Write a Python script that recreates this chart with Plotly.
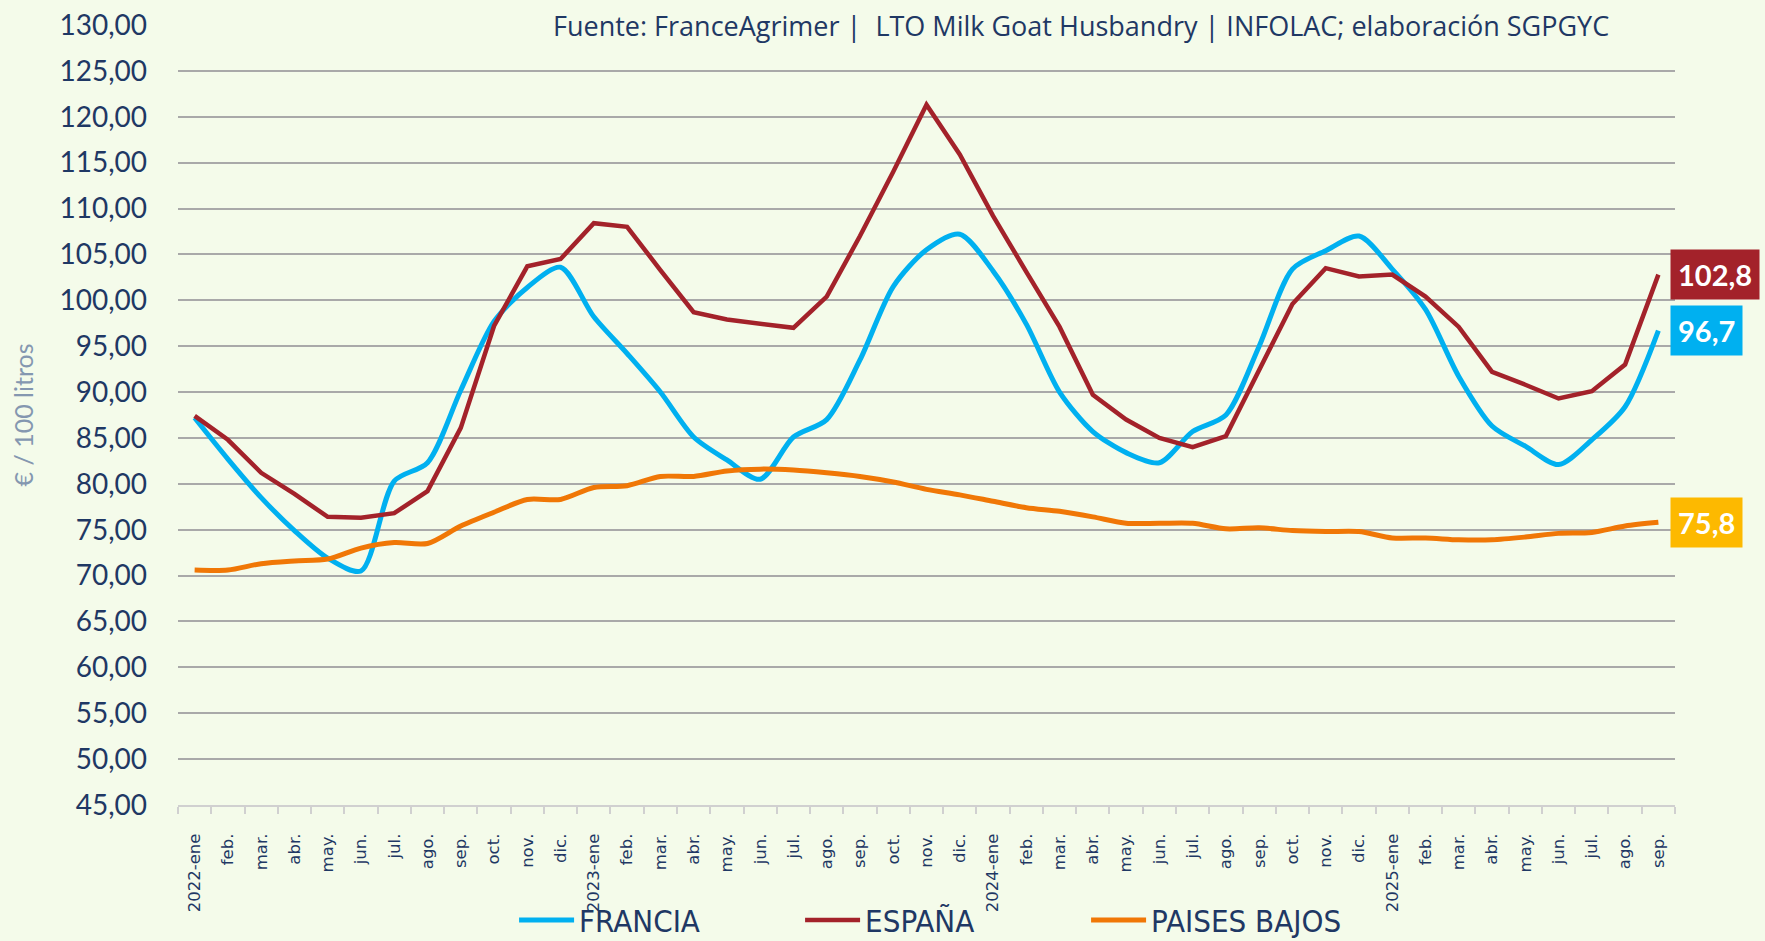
import plotly.graph_objects as go

meses = ["ene", "feb.", "mar.", "abr.", "may.", "jun.", "jul.", "ago.", "sep.", "oct.", "nov.", "dic."]
anios = [2022, 2023, 2024, 2025]
categorias = []
for a in anios:
    for k, m in enumerate(meses):
        if a == 2025 and k > 8:
            break
        categorias.append(f"{a}-ene" if k == 0 else m)

francia = [87.2, 82.7, 78.5, 74.9, 71.9, 70.5, 80.3, 82.3, 90.2, 97.7, 101.4, 103.6,
           98.2, 94.2, 90.0, 85.1, 82.6, 80.5, 85.1, 87.0, 93.5, 101.5, 105.5, 107.2,
           103.2, 97.4, 90.0, 85.7, 83.4, 82.3, 85.7, 87.5, 95.0, 103.4, 105.4, 107.0,
           103.4, 99.0, 91.7, 86.3, 84.1, 82.1, 84.8, 88.4, 96.7]
espana = [87.4, 84.8, 81.2, 78.9, 76.4, 76.3, 76.8, 79.2, 86.1, 97.2, 103.7, 104.5,
          108.4, 108.0, 103.3, 98.7, 97.9, 97.4, 97.0, 100.4, 107.0, 114.0, 121.3, 115.9,
          109.2, 103.1, 97.1, 89.7, 87.0, 85.0, 84.0, 85.2, 92.4, 99.6, 103.5, 102.6,
          102.8, 100.4, 97.1, 92.2, 90.8, 89.3, 90.1, 93.0, 102.8]
paises_bajos = [70.6, 70.6, 71.3, 71.6, 71.8, 73.0, 73.6, 73.5, 75.4, 76.9, 78.3, 78.3,
                79.6, 79.8, 80.8, 80.8, 81.4, 81.6, 81.5, 81.2, 80.8, 80.2, 79.4, 78.8,
                78.1, 77.4, 77.0, 76.4, 75.7, 75.7, 75.7, 75.1, 75.2, 74.9, 74.8, 74.8,
                74.1, 74.1, 73.9, 73.9, 74.2, 74.6, 74.7, 75.4, 75.8]

series = [
    ("FRANCIA", francia, "#00B0F0", "spline", 5),
    ("ESPAÑA", espana, "#A3222A", "linear", 4.5),
    ("PAISES BAJOS", paises_bajos, "#F07706", "spline", 5),
]
etiquetas = [("102,8", espana[-1], "#A3222A"), ("96,7", francia[-1], "#00B0F0"), ("75,8", paises_bajos[-1], "#FDB900")]

NAVY = "#1F3864"
BG = "#F4FBEA"
idx = list(range(len(categorias)))

fig = go.Figure()
for nombre, vals, color, shape, w in series:
    fig.add_trace(go.Scatter(
        x=idx, y=vals, name=nombre, mode="lines",
        line=dict(color=color, width=w, shape=shape, smoothing=0.8 if shape == "spline" else None),
    ))

for texto, val, color in etiquetas:
    fig.add_annotation(
        x=idx[-1], y=val, text=f"<b>{texto}</b>", showarrow=False,
        xanchor="left", yanchor="middle", xshift=12, bgcolor=color,
        font=dict(color="white", size=29, family="Lato, Noto Sans, sans-serif"),
        borderpad=7,
    )

fig.add_annotation(
    xref="paper", yref="paper", x=0.603, y=1.0, xanchor="center", yanchor="middle",
    text="Fuente: FranceAgrimer |  LTO Milk Goat Husbandry | INFOLAC; elaboración SGPGYC",
    showarrow=False, font=dict(color=NAVY, size=27, family="Open Sans, sans-serif"),
)

fig.update_layout(
    width=1765, height=941,
    margin=dict(l=178, r=90, t=25, b=136, autoexpand=False),
    paper_bgcolor=BG, plot_bgcolor=BG,
    separators=",.",
    font=dict(family="Lato, Noto Sans, sans-serif", color=NAVY),
    showlegend=True,
    legend=dict(
        orientation="h", x=0.2245, y=-0.148, xanchor="left", yanchor="middle",
        font=dict(family="DejaVu Sans Condensed, sans-serif", size=31, color=NAVY),
        entrywidth=216, entrywidthmode="pixels", bgcolor="rgba(0,0,0,0)",
        itemwidth=55,
    ),
    xaxis=dict(
        tickmode="array", tickvals=idx, ticktext=categorias,
        tickangle=-90, ticks="", ticklabelstandoff=20, automargin=False,
        minor=dict(tick0=-0.5, dtick=1, ticks="outside", ticklen=7, tickcolor="#D0D0D0", tickwidth=2, showgrid=False),
        showline=True, linecolor="#D0D0D0", linewidth=2, showgrid=False, zeroline=False,
        tickfont=dict(family="DejaVu Sans, sans-serif", size=16.5, color=NAVY),
        range=[-0.5, len(categorias) - 0.5],
    ),
    yaxis=dict(
        range=[45, 130], dtick=5, tick0=45, tickformat=".2f", automargin=False,
        showgrid=True, gridcolor="#A9A9A9", gridwidth=2, zeroline=False,
        ticks="", ticklabelstandoff=30,
        tickfont=dict(family="Lato, Noto Sans, sans-serif", size=28, color=NAVY),
        title=dict(text="€ / 100 litros", font=dict(size=25, color="#8497B0", family="Lato, Noto Sans, sans-serif"), standoff=18),
    ),
)

fig.write_html("out.html", config={"displayModeBar": False}, post_script="document.body.style.margin='0';")
